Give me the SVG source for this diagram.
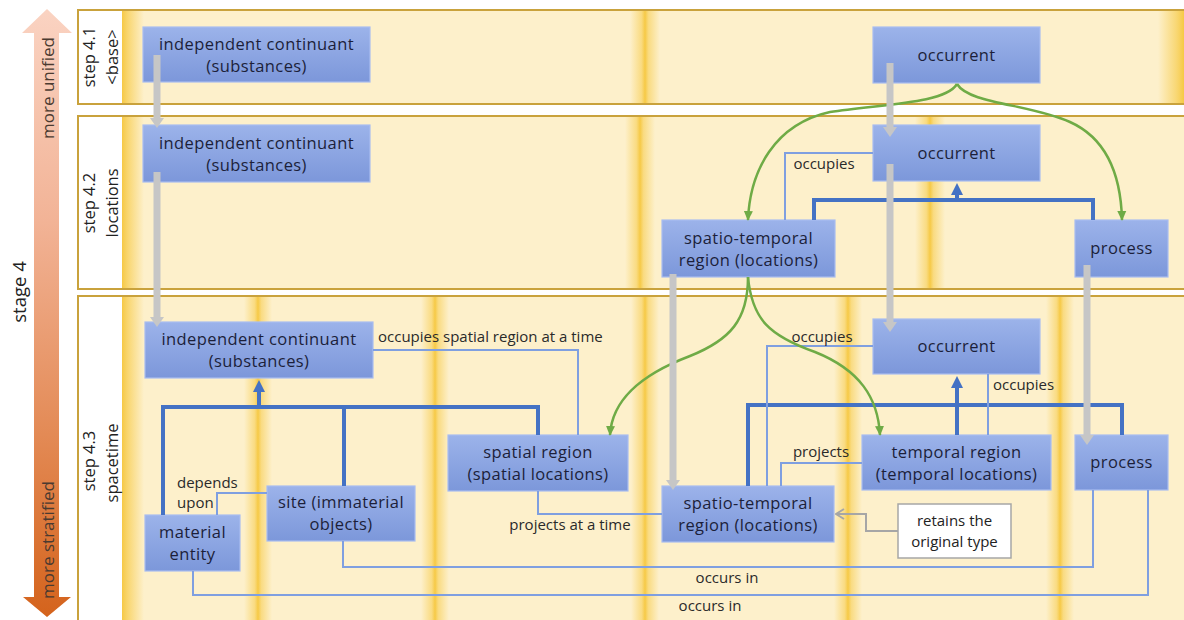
<svg xmlns="http://www.w3.org/2000/svg" width="1184" height="620" viewBox="0 0 1184 620">
  <defs>
    <style>
      .panel { fill: #fdf0cb; stroke: #c9a23c; stroke-width: 2; }
      .lab { fill: #ffffff; }
      .box { fill: url(#boxFill); stroke: #a9bdf0; stroke-width: 1.2; }
      .note { fill: #ffffff; stroke: #a6a6a6; stroke-width: 1.5; }
      .t { font-family: "Open Sans", "Liberation Sans", sans-serif; font-size: 16.5px; letter-spacing: 0.4px; fill: #1c1f3a; text-anchor: middle; }
      .tn { font-family: "Open Sans", "Liberation Sans", sans-serif; font-size: 15px; fill: #222222; text-anchor: middle; }
      .rl { font-family: "Open Sans", "Liberation Sans", sans-serif; font-size: 15px; fill: #2a2a2a; }
      .mid { text-anchor: middle; }
      .step { font-family: "Open Sans", "Liberation Sans", sans-serif; font-size: 16.5px; fill: #222222; text-anchor: middle; dominant-baseline: central; }
      .stage { font-family: "Open Sans", "Liberation Sans", sans-serif; font-size: 18.5px; fill: #222222; text-anchor: middle; dominant-baseline: central; }
      .dir { font-family: "Open Sans", "Liberation Sans", sans-serif; font-size: 17px; fill: #4a3a30; text-anchor: middle; dominant-baseline: central; }
      .gray { fill: none; stroke: #c6c6c6; stroke-width: 7; marker-end: url(#grayHead); }
      .green { fill: none; stroke: #6fab46; stroke-width: 2.5; marker-end: url(#greenHead); }
      .isa { fill: none; stroke: #4472c4; stroke-width: 4; }
      .isaArrow { fill: none; stroke: #4472c4; stroke-width: 4; marker-end: url(#blueHead); }
      .rel { fill: none; stroke: #7f9fe0; stroke-width: 2; }
      .keep { fill: none; stroke: #a6a6a6; stroke-width: 2; marker-end: url(#openHead); }
      .glow { fill: url(#glow); }
    </style>
    <linearGradient id="boxFill" x1="0" y1="0" x2="0" y2="1">
      <stop offset="0" stop-color="#9cb3ea"/>
      <stop offset="1" stop-color="#7c97da"/>
    </linearGradient>
    <linearGradient id="glow" x1="0" y1="0" x2="1" y2="0">
      <stop offset="0" stop-color="#f7cd50" stop-opacity="0"/>
      <stop offset="0.38" stop-color="#f7cd50" stop-opacity="0.6"/>
      <stop offset="0.5" stop-color="#f6c945" stop-opacity="1"/>
      <stop offset="0.62" stop-color="#f7cd50" stop-opacity="0.6"/>
      <stop offset="1" stop-color="#f7cd50" stop-opacity="0"/>
    </linearGradient>
    <linearGradient id="edgeL" x1="0" y1="0" x2="1" y2="0">
      <stop offset="0" stop-color="#f6c945" stop-opacity="1"/>
      <stop offset="0.3" stop-color="#f7cd50" stop-opacity="0.7"/>
      <stop offset="1" stop-color="#f7cd50" stop-opacity="0"/>
    </linearGradient>
    <linearGradient id="edgeR" x1="1" y1="0" x2="0" y2="0">
      <stop offset="0" stop-color="#f6c945" stop-opacity="1"/>
      <stop offset="0.3" stop-color="#f7cd50" stop-opacity="0.7"/>
      <stop offset="1" stop-color="#f7cd50" stop-opacity="0"/>
    </linearGradient>
    <linearGradient id="stageFill" x1="0" y1="0" x2="0" y2="1">
      <stop offset="0" stop-color="#fad3c2"/>
      <stop offset="0.35" stop-color="#f2b396"/>
      <stop offset="0.7" stop-color="#e38a55"/>
      <stop offset="1" stop-color="#d4631c"/>
    </linearGradient>
    <marker id="grayHead" markerUnits="userSpaceOnUse" viewBox="0 0 10 14" refX="0" refY="7" markerWidth="10" markerHeight="14" orient="auto">
      <path d="M0,0 L10,7 L0,14 z" fill="#c6c6c6"/>
    </marker>
    <marker id="greenHead" markerUnits="userSpaceOnUse" viewBox="0 0 10 10" refX="9" refY="5" markerWidth="10" markerHeight="10" orient="auto">
      <path d="M0,0.5 L10,5 L0,9.5 z" fill="#6fab46"/>
    </marker>
    <marker id="blueHead" markerUnits="userSpaceOnUse" viewBox="0 0 12 12" refX="1" refY="6" markerWidth="12" markerHeight="12" orient="auto">
      <path d="M0,0 L12,6 L0,12 z" fill="#4472c4"/>
    </marker>
    <marker id="openHead" markerUnits="userSpaceOnUse" viewBox="0 0 10 12" refX="9" refY="6" markerWidth="10" markerHeight="12" orient="auto">
      <path d="M1,1 L9,6 L1,11" fill="none" stroke="#a6a6a6" stroke-width="2"/>
    </marker>
  </defs>

  <rect width="1184" height="620" fill="#ffffff"/>

  <!-- stage direction arrow -->
  <g id="stage-arrow">
    <polygon points="47,9 72,33 59,33 59,597 71,597 47,617 23,597 34,597 34,33 22,33" fill="url(#stageFill)"/>
    <text class="dir" transform="translate(47,88) rotate(-90)">more unified</text>
    <text class="dir" transform="translate(47,540) rotate(-90)">more stratified</text>
    <text class="stage" transform="translate(18,292) rotate(-90)">stage 4</text>
  </g>

  <!-- step bands -->
  <g id="band-4-1">
    <rect class="panel" x="78" y="10" width="1120" height="94"/>
    <rect class="lab" x="79" y="11" width="43" height="92"/>
    <rect x="122" y="11" width="22" height="92" fill="url(#edgeL)"/>
    <rect class="glow" x="630" y="11" width="30" height="92"/>
    <rect x="1158" y="11" width="26" height="92" fill="url(#edgeR)"/>
    <text class="step" transform="translate(88,57) rotate(-90)">step 4.1</text>
    <text class="step" transform="translate(111,57) rotate(-90)">&lt;base&gt;</text>
  </g>
  <g id="band-4-2">
    <rect class="panel" x="78" y="116" width="1120" height="173"/>
    <rect class="lab" x="79" y="117" width="43" height="171"/>
    <rect x="122" y="117" width="22" height="171" fill="url(#edgeL)"/>
    <rect class="glow" x="625" y="117" width="30" height="171"/>
    <rect class="glow" x="915" y="117" width="30" height="171"/>
    <text class="step" transform="translate(88,203) rotate(-90)">step 4.2</text>
    <text class="step" transform="translate(111,203) rotate(-90)">locations</text>
  </g>
  <g id="band-4-3">
    <rect class="panel" x="78" y="296" width="1120" height="340"/>
    <rect class="lab" x="79" y="297" width="43" height="330"/>
    <rect x="122" y="297" width="22" height="330" fill="url(#edgeL)"/>
    <rect class="glow" x="244" y="297" width="28" height="330"/>
    <rect class="glow" x="421" y="297" width="28" height="330"/>
    <rect class="glow" x="631" y="297" width="28" height="330"/>
    <rect class="glow" x="834" y="297" width="28" height="330"/>
    <rect class="glow" x="1046" y="297" width="28" height="330"/>
    <text class="step" transform="translate(88,461) rotate(-90)">step 4.3</text>
    <text class="step" transform="translate(111,463) rotate(-90)">spacetime</text>
  </g>

  <!-- nodes -->
  <g id="ic-base">
    <rect class="box" x="143" y="27" width="227" height="55"/>
    <text class="t" x="256.5" y="50">independent continuant</text>
    <text class="t" x="256.5" y="72">(substances)</text>
  </g>
  <g id="ic-locations">
    <rect class="box" x="143" y="125" width="227" height="57"/>
    <text class="t" x="256.5" y="149">independent continuant</text>
    <text class="t" x="256.5" y="171">(substances)</text>
  </g>
  <g id="ic-spacetime">
    <rect class="box" x="145" y="322" width="228" height="56"/>
    <text class="t" x="259" y="345">independent continuant</text>
    <text class="t" x="259" y="367">(substances)</text>
  </g>
  <g id="occurrent-base">
    <rect class="box" x="873" y="27" width="167" height="56"/>
    <text class="t" x="956.5" y="61">occurrent</text>
  </g>
  <g id="occurrent-locations">
    <rect class="box" x="873" y="125" width="167" height="56"/>
    <text class="t" x="956.5" y="159">occurrent</text>
  </g>
  <g id="st-region-locations">
    <rect class="box" x="662" y="220" width="173" height="57"/>
    <text class="t" x="748.5" y="244">spatio-temporal</text>
    <text class="t" x="748.5" y="266">region (locations)</text>
  </g>
  <g id="process-locations">
    <rect class="box" x="1075" y="220" width="93" height="57"/>
    <text class="t" x="1121.5" y="254">process</text>
  </g>
  <g id="occurrent-spacetime">
    <rect class="box" x="873" y="319" width="167" height="55"/>
    <text class="t" x="956.5" y="352">occurrent</text>
  </g>
  <g id="temporal-region">
    <rect class="box" x="862" y="435" width="189" height="55"/>
    <text class="t" x="956.5" y="458">temporal region</text>
    <text class="t" x="956.5" y="480">(temporal locations)</text>
  </g>
  <g id="process-spacetime">
    <rect class="box" x="1075" y="435" width="93" height="55"/>
    <text class="t" x="1121.5" y="468">process</text>
  </g>
  <g id="spatial-region">
    <rect class="box" x="448" y="435" width="180" height="56"/>
    <text class="t" x="538" y="458">spatial region</text>
    <text class="t" x="538" y="480">(spatial locations)</text>
  </g>
  <g id="st-region-spacetime">
    <rect class="box" x="662" y="486" width="172" height="56"/>
    <text class="t" x="748" y="509">spatio-temporal</text>
    <text class="t" x="748" y="531">region (locations)</text>
  </g>
  <g id="site">
    <rect class="box" x="267" y="486" width="148" height="55"/>
    <text class="t" x="341" y="508">site (immaterial</text>
    <text class="t" x="341" y="530">objects)</text>
  </g>
  <g id="material-entity">
    <rect class="box" x="145" y="515" width="95" height="56"/>
    <text class="t" x="192.5" y="538">material</text>
    <text class="t" x="192.5" y="560">entity</text>
  </g>
  <g id="retains-note">
    <rect class="note" x="898" y="504" width="113" height="54"/>
    <text class="tn" x="954.5" y="526">retains the</text>
    <text class="tn" x="954.5" y="547">original type</text>
  </g>

  <!-- connectors -->
  <g id="connectors">
    <!-- is-a trees -->
    <path class="isa" d="M163,515 V407 H538 V435 M344,407 V486"/>
    <path class="isaArrow" d="M259,407 V391"/>
    <path class="isa" d="M814,220 V200 H1093 V220"/>
    <path class="isaArrow" d="M957,200 V194"/>
    <path class="isa" d="M748,486 V405 H1122 V435 M957,435 V405"/>
    <path class="isaArrow" d="M957,435 V387"/>

    <!-- relations -->
    <path class="rel" d="M373,350 H578 V435"/>
    <path class="rel" d="M217,515 V493 H267"/>
    <path class="rel" d="M343,541 V567 H1093 V490"/>
    <path class="rel" d="M193,571 V595 H1148 V490"/>
    <path class="rel" d="M538,491 V514 H662"/>
    <path class="rel" d="M781,486 V463 H862"/>
    <path class="rel" d="M767,486 V346 H873"/>
    <path class="rel" d="M988,435 V374"/>
    <path class="rel" d="M785,220 V153 H873"/>
    <path class="keep" d="M898,531 H866 V514 H836"/>

    <!-- specialisation curves -->
    <path class="green" d="M957,84 C945,104 880,104 830,112 C775,124 750,170 748,220"/>
    <path class="green" d="M957,84 C969,104 1030,104 1070,122 C1110,140 1121,180 1122,220"/>
    <path class="green" d="M748,277 C748,320 730,340 690,356 C640,375 612,400 610,435"/>
    <path class="green" d="M748,277 C752,320 770,336 815,352 C860,370 878,398 880,435"/>

    <!-- step-to-step carry-over -->
    <path class="gray" d="M157,55 V118"/>
    <path class="gray" d="M157,172 V317"/>
    <path class="gray" d="M890,63 V127"/>
    <path class="gray" d="M890,164 V322"/>
    <path class="gray" d="M673,274 V480"/>
    <path class="gray" d="M1087,265 V435"/>

    <!-- relation labels -->
    <text class="rl" x="378" y="342">occupies spatial region at a time</text>
    <text class="rl" x="177" y="488">depends</text>
    <text class="rl" x="177" y="508">upon</text>
    <text class="rl mid" x="570" y="530">projects at a time</text>
    <text class="rl mid" x="821" y="457">projects</text>
    <text class="rl mid" x="822" y="342">occupies</text>
    <text class="rl" x="993" y="390">occupies</text>
    <text class="rl mid" x="824" y="169">occupies</text>
    <text class="rl mid" x="727" y="583">occurs in</text>
    <text class="rl mid" x="710" y="611">occurs in</text>
  </g>
</svg>
